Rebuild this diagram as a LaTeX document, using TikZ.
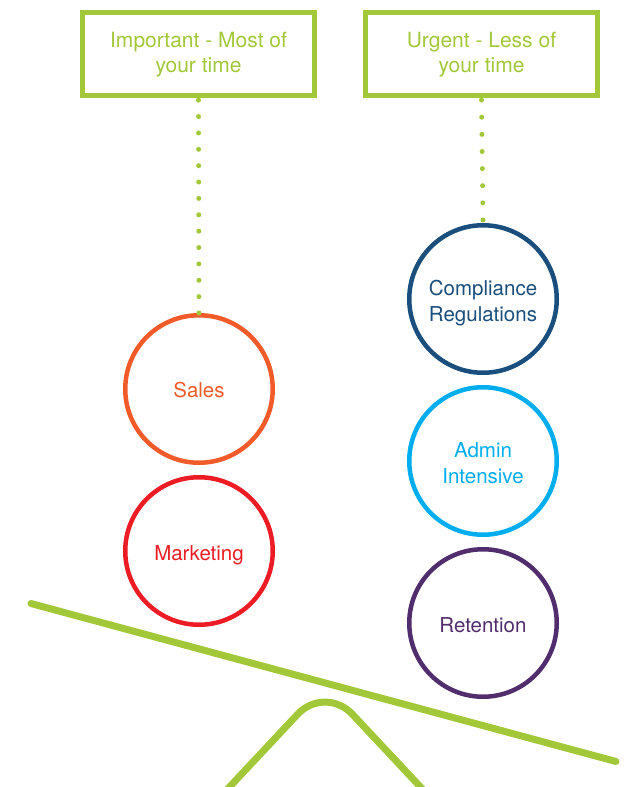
\documentclass[tikz,border=0pt]{standalone}
\usepackage{fontspec}
\setmainfont{TeX Gyre Heros}
\definecolor{lgreen}{HTML}{A2C83A}
\definecolor{corange}{HTML}{F15A29}
\definecolor{cred}{HTML}{ED1C24}
\definecolor{cblue}{HTML}{1A4E7C}
\definecolor{ccyan}{HTML}{00AEEF}
\definecolor{cpurple}{HTML}{512D6D}
\newcommand\hstrut[1]{\rule{0pt}{#1}}
\newcommand\dstrut[1]{\rule[-#1]{0pt}{#1}}
\begin{document}
\begin{tikzpicture}[x=1pt,y=-1pt,
  topbox/.style={draw=lgreen,line width=5pt,minimum width=232pt,minimum height=83pt,inner sep=0pt,
    text=lgreen,font=\fontsize{21}{25.4}\selectfont,align=center},
  bubble/.style={circle,draw=#1,text=#1,line width=4.5pt,minimum size=147.5pt,inner sep=0pt,
    font=\fontsize{20.5}{26}\selectfont,align=center},
  dotline/.style={draw=lgreen,line width=5pt,line cap=round,dash pattern=on 0pt off #1},
  greenbar/.style={draw=lgreen,line width=7pt,line cap=round}]
\useasboundingbox (0,0) rectangle (626,787);
\node[topbox] (imp) at (198.5,54) {\hstrut{18pt}Important - Most of\\your time\dstrut{6pt}};
\node[topbox] (urg) at (481.5,54) {\hstrut{18pt}Urgent - Less of\\your time\dstrut{6pt}};
\node[bubble=corange] (sales) at (199,389) {\hstrut{21pt}Sales\dstrut{5pt}};
\node[bubble=cred] (mkt) at (199,551) {\hstrut{23pt}Marketing\dstrut{5pt}};
\node[bubble=cblue] (comp) at (483,299) {\hstrut{24pt}Compliance\\Regulations\dstrut{5pt}};
\node[bubble=ccyan] (admin) at (483,461) {\hstrut{24pt}Admin\\Intensive\dstrut{5pt}};
\node[bubble=cpurple] (ret) at (483,623) {\hstrut{24pt}Retention\dstrut{5pt}};
\draw[dotline=16.37pt] (sales.north) -- ([yshift=-2pt]imp.south);
\draw[dotline=17.13pt] ([yshift=3pt]comp.north) -- ([yshift=-2pt]urg.south);
\coordinate (lvA) at (31,603.5);
\coordinate (lvB) at (616,761.5);
\draw[greenbar] (lvA) -- (lvB);
\coordinate (fA) at (222,795);
\coordinate (fT) at (325,685);
\coordinate (fB) at (428,795);
\draw[greenbar,line cap=butt,rounded corners=40pt] (fA) -- (fT) -- (fB);
\end{tikzpicture}
\end{document}
